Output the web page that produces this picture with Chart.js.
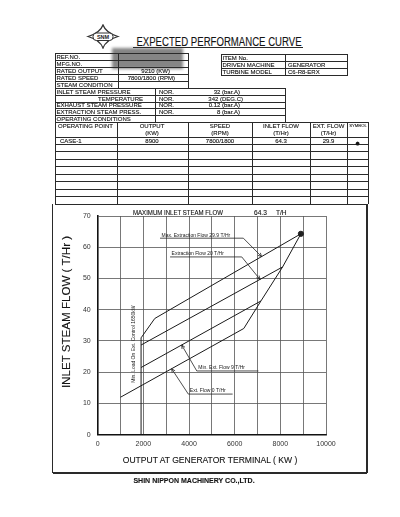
<!DOCTYPE html>
<html>
<head>
<meta charset="utf-8">
<script src="https://cdn.jsdelivr.net/npm/chart.js@4.4.1/dist/chart.umd.min.js"></script>
<style>
  html, body { margin: 0; padding: 0; background: #fff; }
  #page { position: relative; width: 400px; height: 517px; overflow: hidden;
          font-family: "Liberation Sans", Arial, sans-serif; color: #141414; }
  .ln { position: absolute; background: #2a2a2a; }
  .t { position: absolute; white-space: nowrap; line-height: 1; -webkit-text-stroke: 0.12px #141414; }
  #chartBox { position: absolute; left: 0; top: 200px; width: 400px; height: 317px; }
  #redact { position: absolute; left: 112px; top: 47.5px; width: 71px; height: 21px;
            background: #858585; filter: blur(1.6px); }
</style>
</head>
<body>
<div id="page">
  <svg style="position:absolute;left:86px;top:24px" width="34" height="25" viewBox="0 0 34 25">
    <path d="M17,1 Q20,9 32,12.5 Q20,16 17,24 Q14,16 2,12.5 Q14,9 17,1 Z" fill="none" stroke="#333" stroke-width="1.3"/>
    <rect x="7" y="9" width="20" height="7.5" rx="3.5" fill="#fff" stroke="#333" stroke-width="1"/>
    <text x="17" y="14.8" font-size="5.5" font-weight="bold" text-anchor="middle" font-family="Liberation Sans" fill="#222">SNM</text>
  </svg>
  <div id="redact"></div>
  <div id="chartBox"><canvas id="perfChart"></canvas></div>
</div>

<script>
// operating point (CASE-1)
const caseNames = ['CASE-1'];
const caseOutput = [8900];
const caseSpeed = ['7800/1800'];
const caseInletFlow = [64.3];
const caseExtFlow = [29.9];

// performance lines, output (kW) vs inlet steam flow (T/Hr)
const maxExtOutput = [1900, 2500, 8900];
const maxExtFlow = [31.0, 37.2, 64.3];
const ext20Output = [1900, 8100];
const ext20Flow = [28.7, 53.7];
const minExt9Output = [1900, 7150];
const minExt9Flow = [21.5, 42.8];
const ext0Output = [1000, 6400, 7150];
const ext0Flow = [12.0, 34.0, 42.8];
const edgeOutput = [7150, 8100, 8900];
const edgeFlow = [42.8, 53.7, 64.3];
const minLoadOutput = [1900, 1900];
const minLoadFlow = [0, 31.0];

const xTickLabels = ['0', '2000', '4000', '6000', '8000', '10000'];
const yTickLabels = ['0', '10', '20', '30', '40', '50', '60', '70'];

// ---------- header sheet ----------
const page = document.getElementById('page');

function hl(x1, x2, y, w) {
  w = w || 0.8;
  const d = document.createElement('div');
  d.className = 'ln';
  d.style.cssText = `left:${x1}px;top:${y - w / 2}px;width:${x2 - x1}px;height:${w}px`;
  page.appendChild(d);
}
function vl(x, y1, y2, w) {
  w = w || 0.8;
  const d = document.createElement('div');
  d.className = 'ln';
  d.style.cssText = `left:${x - w / 2}px;top:${y1}px;width:${w}px;height:${y2 - y1}px`;
  page.appendChild(d);
}
function tx(x, y, s, size, align, extra) {
  const d = document.createElement('div');
  d.className = 't';
  const shift = align === 'center' ? '-50%' : align === 'right' ? '-100%' : '0';
  d.style.cssText = `left:${x}px;top:${y}px;font-size:${size}px;transform:translate(${shift},-50%) ${extra || ''};transform-origin:0 50%`;
  if (align === 'center') d.style.transformOrigin = '50% 50%';
  d.textContent = s;
  page.appendChild(d);
  return d;
}

// title
tx(219, 41.5, 'EXPECTED PERFORMANCE CURVE', 12, 'center', 'scaleX(0.8)');
hl(133, 303, 47, 1);

// left info table
[53, 60, 67, 74, 81].forEach(y => hl(55, 188, y));
[88, 95, 102, 108.5, 115].forEach(y => hl(55, 285, y));
vl(55, 53, 204); vl(118.3, 53, 88); vl(188, 53, 88);
vl(155, 88, 122); vl(285, 88, 122);
tx(56.5, 56.5, 'REF.NO.', 6);
tx(56.5, 63.5, 'MFG.NO.', 6);
tx(56.5, 70.5, 'RATED OUTPUT', 6);
tx(170, 70.5, '9210 (KW)', 6, 'right');
tx(56.5, 77.5, 'RATED SPEED', 6);
tx(175, 77.5, '7800/1800 (RPM)', 6, 'right');
tx(56.5, 84.5, 'STEAM CONDITION', 6);
tx(56.5, 91.5, 'INLET STEAM PRESSURE', 6);
tx(143, 98.5, 'TEMPERATURE', 6, 'right');
tx(56.5, 105.3, 'EXHAUST STEAM PRESSURE', 6);
tx(56.5, 111.8, 'EXTRACTION STEAM PRESS.', 6);
tx(56.5, 118.5, 'OPERATING CONDITIONS', 6);
[91.5, 98.5, 105.3, 111.8].forEach(y => tx(159, y, 'NOR.', 6));
tx(240, 91.5, '32 (bar.A)', 6, 'right');
tx(243, 98.5, '342 (DEG.C)', 6, 'right');
tx(240, 105.3, '0.12 (bar.A)', 6, 'right');
tx(240, 111.8, '8 (bar.A)', 6, 'right');

// right info table
[54, 61, 68, 75].forEach(y => hl(221, 347.7, y));
vl(221, 54, 75); vl(285.7, 54, 75); vl(347.7, 54, 75);
tx(222.5, 57.5, 'ITEM No.', 6);
tx(222.5, 64.5, 'DRIVEN MACHINE', 6);
tx(288, 64.5, 'GENERATOR', 6);
tx(222.5, 71.5, 'TURBINE MODEL', 6);
tx(288, 71.5, 'C6-R8-ERX', 6);

// operating point table
[122, 137.3, 144.3, 151.7, 159.3, 166.7, 174.3, 181.7, 189.3, 196.7, 204].forEach(y => hl(55, 368, y));
[117, 188, 252, 310, 347].forEach(x => vl(x, 122, 204));
vl(368, 122, 204);
tx(58, 126, 'OPERATING  POINT', 6);
tx(152, 126, 'OUTPUT', 6, 'center');   tx(152, 132.5, '(KW)', 6, 'center');
tx(220, 126, 'SPEED', 6, 'center');    tx(220, 132.5, '(RPM)', 6, 'center');
tx(281, 126, 'INLET FLOW', 6, 'center'); tx(281, 132.5, '(T/Hr)', 6, 'center');
tx(328.5, 126, 'EXT. FLOW', 6, 'center'); tx(328.5, 132.5, '(T/Hr)', 6, 'center');
tx(357.5, 125.5, 'SYMBOL', 6, 'center', 'scale(0.7)');
caseNames.forEach((n, i) => {
  const y = 140.5 + i * 7.3;
  tx(60, y, n, 6);
  tx(152, y, String(caseOutput[i]), 6, 'center');
  tx(220, y, caseSpeed[i], 6, 'center');
  tx(281, y, caseInletFlow[i].toFixed(1), 6, 'center');
  tx(328.5, y, caseExtFlow[i].toFixed(1), 6, 'center');
  tx(357.5, y + 2, '\u25CF', 8.5, 'center');
});

// chart frame
vl(52.5, 204, 473, 1.2); vl(367, 204, 473, 1.2); hl(52.5, 367, 473, 1.4);

// chart texts
tx(133, 213.3, 'MAXIMUM  INLET STEAM  FLOW', 6.6, 'left', 'scaleX(0.92)');
tx(254, 213.3, caseInletFlow[0].toFixed(1), 6.6);
tx(276, 213.3, 'T/H', 6.6);
tx(66, 312, 'INLET STEAM FLOW ( T/Hr )', 11.6, 'center', 'rotate(-90deg)');
tx(210, 460, 'OUTPUT AT GENERATOR TERMINAL ( KW )', 9.5, 'center', 'scaleX(0.9)');
tx(193.5, 480.7, 'SHIN NIPPON MACHINERY CO.,LTD.', 7.4, 'center', 'scaleX(0.95)').style.fontWeight = 'bold';

// ---------- chart ----------
const pts = (xs, ys) => xs.map((x, i) => ({ x: x, y: ys[i] }));
const lineDs = (xs, ys) => ({
  data: pts(xs, ys), showLine: true, borderColor: '#1a1a1a', borderWidth: 1,
  pointRadius: 0, fill: false
});

const notes = [
  { text: 'Max. Extraction Flow 29.9 T/Hr', from: [2730, 62.9], to: [6380, 62.9], tip: [7180, 57.0], leader: 'end' },
  { text: 'Extraction Flow 20 T/Hr', from: [3170, 56.9], to: [6310, 56.9], tip: [7110, 49.7], leader: 'end' },
  { text: 'Min. Ext. Flow 9 T/Hr', from: [4340, 20.4], to: [7040, 20.4], tip: [3680, 28.7], leader: 'start' },
  { text: 'Ext. Flow 0 T/Hr', from: [3970, 13.0], to: [5910, 13.0], tip: [3240, 21.1], leader: 'start' }
];
const sideNote = { text: 'Min. Load On Ext. Control 1650kW', at: [1560, 29.0] };

const notesPlugin = {
  id: 'notes',
  afterDatasetsDraw(chart) {
    const ctx = chart.ctx, sx = chart.scales.x, sy = chart.scales.y;
    const px = v => sx.getPixelForValue(v), py = v => sy.getPixelForValue(v);
    ctx.save();
    ctx.strokeStyle = '#222';
    ctx.fillStyle = '#1a1a1a';
    ctx.lineWidth = 0.8;
    ctx.font = '5px "Liberation Sans", Arial, sans-serif';
    ctx.textBaseline = 'alphabetic';
    notes.forEach(n => {
      const x0 = px(n.from[0]), x1 = px(n.to[0]), y = py(n.from[1]);
      const sxp = n.leader === 'end' ? x1 : x0;
      const tX = px(n.tip[0]), tY = py(n.tip[1]);
      ctx.beginPath();
      ctx.moveTo(x0, y); ctx.lineTo(x1, y);
      ctx.moveTo(sxp, y); ctx.lineTo(tX, tY);
      const a = Math.atan2(tY - y, tX - sxp), L = 4;
      ctx.moveTo(tX - L * Math.cos(a - 0.45), tY - L * Math.sin(a - 0.45));
      ctx.lineTo(tX, tY);
      ctx.lineTo(tX - L * Math.cos(a + 0.45), tY - L * Math.sin(a + 0.45));
      ctx.stroke();
      ctx.fillText(n.text, x0 + 1.5, y - 1.6);
    });
    ctx.translate(px(sideNote.at[0]), py(sideNote.at[1]));
    ctx.rotate(-Math.PI / 2);
    ctx.textAlign = 'center';
    ctx.textBaseline = 'middle';
    ctx.font = '5px "Liberation Sans", Arial, sans-serif';
    ctx.fillText(sideNote.text, 0, 0);
    ctx.restore();
  }
};

new Chart(document.getElementById('perfChart').getContext('2d'), {
  type: 'scatter',
  data: {
    datasets: [
      lineDs(maxExtOutput, maxExtFlow),
      lineDs(ext20Output, ext20Flow),
      lineDs(minExt9Output, minExt9Flow),
      lineDs(ext0Output, ext0Flow),
      lineDs(edgeOutput, edgeFlow),
      lineDs(minLoadOutput, minLoadFlow),
      { data: pts(caseOutput, caseInletFlow), pointRadius: 2.6, backgroundColor: '#222', borderColor: '#222', showLine: false }
    ]
  },
  options: {
    responsive: true,
    maintainAspectRatio: false,
    animation: false,
    layout: { padding: { left: 10, right: 74, top: 16, bottom: 62.3 } },
    plugins: { legend: { display: false }, tooltip: { enabled: false } },
    scales: {
      x: {
        type: 'linear', min: 0, max: 10000,
        afterFit(s) { s.height = 20; },
        grid: { color: '#555', lineWidth: 0.8, drawTicks: false },
        border: { color: '#111', width: 1.6 },
        ticks: {
          stepSize: 1000, autoSkip: false, maxRotation: 0, padding: 5,
          color: '#333', font: { family: 'Liberation Sans', size: 7 },
          callback: v => xTickLabels.includes(String(v)) ? String(v) : ''
        }
      },
      y: {
        type: 'linear', min: 0, max: 70,
        afterFit(s) { s.width = 87.7; },
        grid: { color: '#555', lineWidth: 0.8, drawTicks: false },
        border: { color: '#111', width: 1.6 },
        ticks: {
          stepSize: 10, padding: 7,
          color: '#333', font: { family: 'Liberation Sans', size: 7 },
          callback: v => yTickLabels.includes(String(v)) ? String(v) : ''
        }
      }
    }
  },
  plugins: [notesPlugin]
});
</script>
</body>
</html>
